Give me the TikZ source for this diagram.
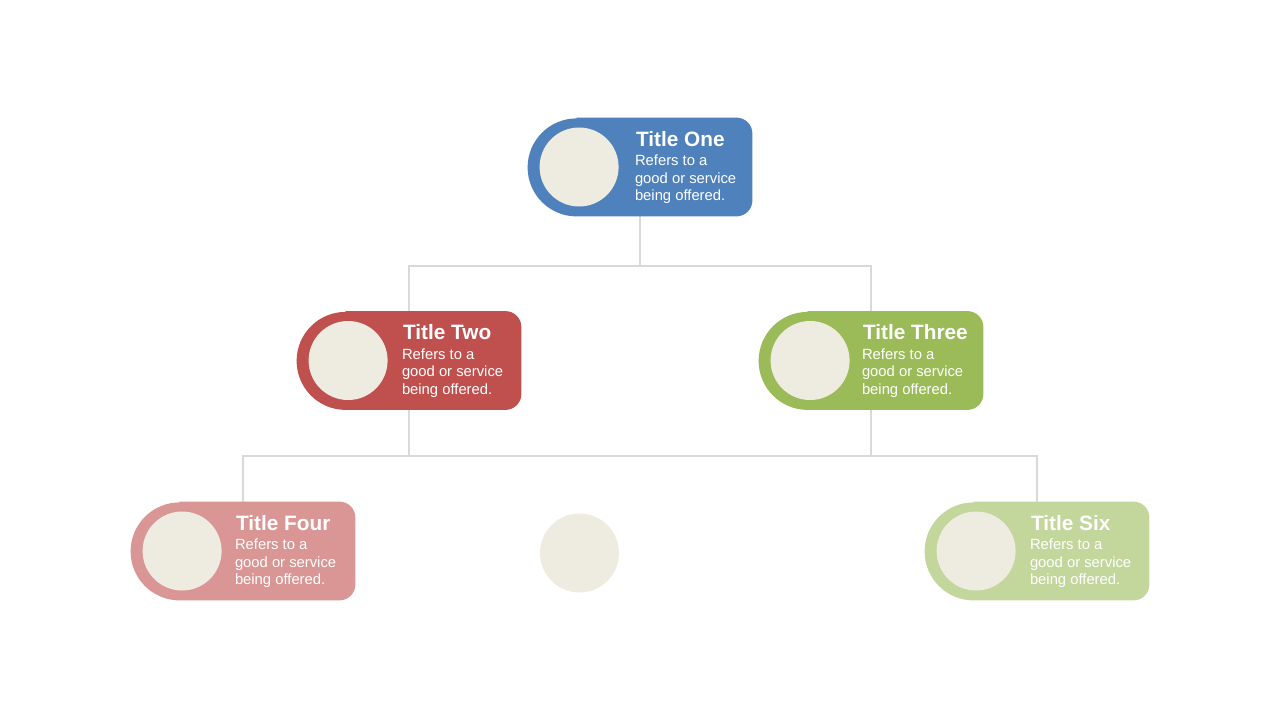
\documentclass[tikz,border=0pt]{standalone}
\usepackage{fontspec}
\setmainfont{Liberation Sans}
\usetikzlibrary{positioning,calc}
\definecolor{cardblue}{HTML}{4F81BD}
\definecolor{cardred}{HTML}{C0504D}
\definecolor{cardgreen}{HTML}{9BBB59}
\definecolor{cardpink}{HTML}{D99694}
\definecolor{cardlime}{HTML}{C3D69B}
\definecolor{beige}{HTML}{EEECE1}
\definecolor{linegray}{HTML}{D9D9D9}
\tikzset{
    x=0.5pt, y=0.5pt, % one unit is one pixel of the slide
    card/.style={rectangle, minimum width=112pt, minimum height=49pt, inner sep=0pt}, % invisible frame of a card
    photo/.style={circle, fill=beige, minimum size=39.5pt, inner sep=0pt}, % round picture holder
    heading/.style={anchor=base west, inner sep=0pt, text=white, font=\bfseries\fontsize{10.4}{12}\selectfont},
    blurb/.style={anchor=north west, inner sep=0pt, text=white, align=left, font=\fontsize{7.4}{8.75}\selectfont},
    link/.style={draw=linegray, line width=1pt},
}
% pill shaped background: round on the left, small corners on the right
\newcommand\cardfill[2]{%
    \fill[#2] ([xshift=24.5pt]#1.north west) -- ([xshift=-8pt]#1.north east)
        arc[start angle=90, end angle=0, radius=8pt] -- ([yshift=8pt]#1.south east)
        arc[start angle=0, end angle=-90, radius=8pt] -- ([xshift=24.5pt]#1.south west)
        arc[start angle=270, end angle=90, radius=24.5pt] -- cycle;}

\begin{document}
\begin{tikzpicture}
    \useasboundingbox[fill=white] (0,0) rectangle (1280,720);

    \node[card] (one) at (640,553) {};
    \node[card] (two) at (409,359.5) {};
    \node[card] (three) at (871,359.5) {};
    \node[card] (four) at (243,169) {};
    \node[card] (six) at (1037,169) {};

    % connectors
    \coordinate (fork1) at ($(one.south)+(0,-50)$);
    \coordinate (fork2) at ($(two.south)+(0,-46)$);
    \draw[link] (one.south) -- (fork1) -| (two.north);
    \draw[link] (fork1) -| (three.north);
    \draw[link] (two.south) -- (fork2) -| (four.north);
    \draw[link] (fork2) -| (six.north);
    \draw[link] (three.south) |- (fork2);

    \foreach \name/\col in {one/cardblue, two/cardred, three/cardgreen, four/cardpink, six/cardlime}
    {
        \cardfill{\name}{\col}
        \node[photo] (\name pic) at ([xshift=25.75pt]\name.west) {};
    }

    \node[photo] (fivepic) at (579.5,167) {};

    \node[heading] (onehead) at ([xshift=54pt,yshift=-14.35pt]one.north west) {Title One};
    \node[blurb] (onetext) at ([xshift=53.5pt,yshift=-18.5pt]one.north west) {Refers to a\\good or service\\being offered.};
    \node[heading] (twohead) at ([xshift=53pt,yshift=-14.35pt]two.north west) {Title Two};
    \node[blurb] (twotext) at ([xshift=52.5pt,yshift=-18.5pt]two.north west) {Refers to a\\good or service\\being offered.};
    \node[heading] (threehead) at ([xshift=52pt,yshift=-14.35pt]three.north west) {Title Three};
    \node[blurb] (threetext) at ([xshift=51.5pt,yshift=-18.5pt]three.north west) {Refers to a\\good or service\\being offered.};
    \node[heading] (fourhead) at ([xshift=52.5pt,yshift=-14.35pt]four.north west) {Title Four};
    \node[blurb] (fourtext) at ([xshift=52pt,yshift=-18.5pt]four.north west) {Refers to a\\good or service\\being offered.};
    \node[heading] (sixhead) at ([xshift=53pt,yshift=-14.35pt]six.north west) {Title Six};
    \node[blurb] (sixtext) at ([xshift=52.5pt,yshift=-18.5pt]six.north west) {Refers to a\\good or service\\being offered.};
\end{tikzpicture}
\end{document}
